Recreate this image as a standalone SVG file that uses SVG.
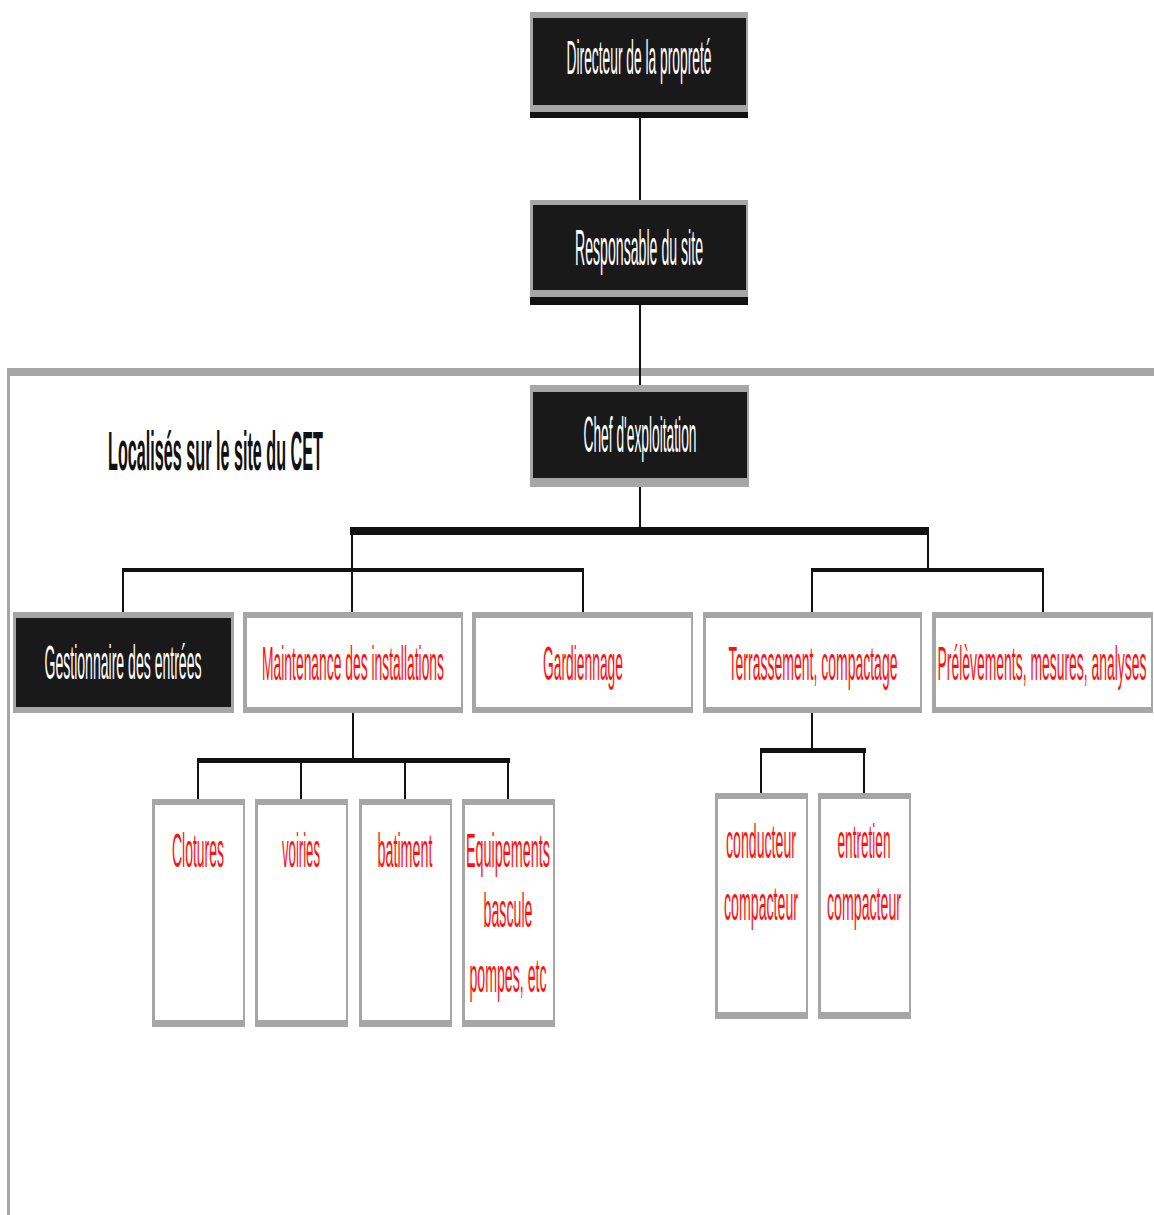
<svg xmlns="http://www.w3.org/2000/svg" width="1154" height="1215" viewBox="0 0 1154 1215">
<style>
.g{fill:#a6a6a6}
.dk{fill:#191919}
.wh{fill:#ffffff}
.tw{font-family:"Liberation Sans",Arial,sans-serif;fill:#ffffff;text-anchor:middle}
.tr{font-family:"Liberation Sans",Arial,sans-serif;fill:#ff1010;text-anchor:middle}
.tb{font-family:"Liberation Sans",Arial,sans-serif;fill:#111111}
.ln{stroke:#111111;stroke-width:2;fill:none}
.bar{fill:#111111}
</style>
<rect width="1154" height="1215" fill="#ffffff"/>
<g id="frame">
<rect class="g" x="7" y="368" width="1147" height="8"/>
<rect class="g" x="7" y="368" width="3" height="847"/>
</g>
<g id="connectors">
<line class="ln" x1="640" y1="118" x2="640" y2="200"/>
<line class="ln" x1="640" y1="305" x2="640" y2="388"/>
<line class="ln" x1="640" y1="486" x2="640" y2="528"/>
<rect class="bar" x="350" y="527" width="579" height="8"/>
<line class="ln" x1="352" y1="535" x2="352" y2="613"/>
<line class="ln" x1="928" y1="535" x2="928" y2="572"/>
<rect class="bar" x="122" y="568" width="462" height="4"/>
<rect class="bar" x="811" y="568" width="233" height="4"/>
<line class="ln" x1="123" y1="572" x2="123" y2="613"/>
<line class="ln" x1="583" y1="572" x2="583" y2="613"/>
<line class="ln" x1="812" y1="572" x2="812" y2="613"/>
<line class="ln" x1="1043" y1="572" x2="1043" y2="613"/>
<line class="ln" x1="353" y1="712" x2="353" y2="759"/>
<rect class="bar" x="197" y="758" width="313" height="5"/>
<line class="ln" x1="198" y1="763" x2="198" y2="800"/>
<line class="ln" x1="301" y1="763" x2="301" y2="800"/>
<line class="ln" x1="405" y1="763" x2="405" y2="800"/>
<line class="ln" x1="508" y1="763" x2="508" y2="800"/>
<line class="ln" x1="812" y1="712" x2="812" y2="749"/>
<rect class="bar" x="760" y="748" width="106" height="5"/>
<line class="ln" x1="761" y1="753" x2="761" y2="794"/>
<line class="ln" x1="864" y1="753" x2="864" y2="794"/>
</g>
<g id="directeur">
<rect class="g" x="530" y="12" width="218" height="100"/>
<rect class="dk" x="533" y="18" width="213" height="87"/>
<rect class="bar" x="530" y="112" width="218" height="6"/>
<text class="tw" x="639" y="74" font-size="48" textLength="145" lengthAdjust="spacingAndGlyphs">Directeur de la propreté</text>
</g>
<g id="responsable">
<rect class="g" x="530" y="200" width="218" height="97"/>
<rect class="dk" x="533" y="205" width="213" height="85"/>
<rect class="bar" x="530" y="297" width="218" height="8"/>
<text class="tw" x="639" y="265" font-size="50" textLength="128" lengthAdjust="spacingAndGlyphs">Responsable du site</text>
</g>
<g id="localises">
<text class="tb" x="108" y="470" font-size="56" font-weight="bold" textLength="215" lengthAdjust="spacingAndGlyphs">Localisés sur le site du CET</text>
</g>
<g id="chef">
<rect class="g" x="530" y="385" width="219" height="102"/>
<rect class="dk" x="533" y="392" width="214" height="86"/>
<text class="tw" x="640" y="452" font-size="50" textLength="113" lengthAdjust="spacingAndGlyphs">Chef d'exploitation</text>
</g>
<g id="gestionnaire">
<rect class="g" x="13" y="612" width="221" height="101"/>
<rect class="dk" x="16" y="618" width="215" height="89"/>
<text class="tw" x="123" y="679" font-size="48" textLength="157" lengthAdjust="spacingAndGlyphs">Gestionnaire des entrées</text>
</g>
<g id="maintenance">
<rect class="g" x="243" y="612" width="220" height="101"/>
<rect class="wh" x="247" y="618" width="214" height="89"/>
<text class="tr" x="353" y="680" font-size="48" textLength="182" lengthAdjust="spacingAndGlyphs">Maintenance des installations</text>
</g>
<g id="gardiennage">
<rect class="g" x="472" y="612" width="221" height="101"/>
<rect class="wh" x="476" y="618" width="215" height="89"/>
<text class="tr" x="583" y="680" font-size="48" textLength="80" lengthAdjust="spacingAndGlyphs">Gardiennage</text>
</g>
<g id="terrassement">
<rect class="g" x="703" y="612" width="219" height="101"/>
<rect class="wh" x="706" y="618" width="214" height="89"/>
<text class="tr" x="813" y="680" font-size="48" textLength="169" lengthAdjust="spacingAndGlyphs">Terrassement, compactage</text>
</g>
<g id="prelevements">
<rect class="g" x="932" y="612" width="221" height="101"/>
<rect class="wh" x="936" y="618" width="215" height="89"/>
<text class="tr" x="1042" y="680" font-size="48" textLength="209" lengthAdjust="spacingAndGlyphs">Prélèvements, mesures, analyses</text>
</g>
<g id="clotures">
<rect class="g" x="152" y="799" width="93" height="228"/>
<rect class="wh" x="155" y="805" width="88" height="215"/>
<text class="tr" x="198" y="867" font-size="48" textLength="52" lengthAdjust="spacingAndGlyphs">Clotures</text>
</g>
<g id="voiries">
<rect class="g" x="255" y="799" width="93" height="228"/>
<rect class="wh" x="258" y="805" width="88" height="215"/>
<text class="tr" x="301" y="867" font-size="48" textLength="38" lengthAdjust="spacingAndGlyphs">voiries</text>
</g>
<g id="batiment">
<rect class="g" x="359" y="799" width="93" height="228"/>
<rect class="wh" x="362" y="805" width="88" height="215"/>
<text class="tr" x="405" y="867" font-size="48" textLength="55" lengthAdjust="spacingAndGlyphs">batiment</text>
</g>
<g id="equipements">
<rect class="g" x="462" y="799" width="93" height="228"/>
<rect class="wh" x="465" y="805" width="88" height="215"/>
<text class="tr" x="508" y="867" font-size="48" textLength="84" lengthAdjust="spacingAndGlyphs">Equipements</text>
<text class="tr" x="508" y="927" font-size="48" textLength="49" lengthAdjust="spacingAndGlyphs">bascule</text>
<text class="tr" x="508" y="992" font-size="48" textLength="77" lengthAdjust="spacingAndGlyphs">pompes, etc</text>
</g>
<g id="conducteur">
<rect class="g" x="715" y="793" width="93" height="226"/>
<rect class="wh" x="718" y="799" width="88" height="213"/>
<text class="tr" x="761" y="858" font-size="48" textLength="70" lengthAdjust="spacingAndGlyphs">conducteur</text>
<text class="tr" x="761" y="920" font-size="48" textLength="74" lengthAdjust="spacingAndGlyphs">compacteur</text>
</g>
<g id="entretien">
<rect class="g" x="818" y="793" width="93" height="226"/>
<rect class="wh" x="821" y="799" width="88" height="213"/>
<text class="tr" x="864" y="858" font-size="48" textLength="53" lengthAdjust="spacingAndGlyphs">entretien</text>
<text class="tr" x="864" y="920" font-size="48" textLength="74" lengthAdjust="spacingAndGlyphs">compacteur</text>
</g>
</svg>
